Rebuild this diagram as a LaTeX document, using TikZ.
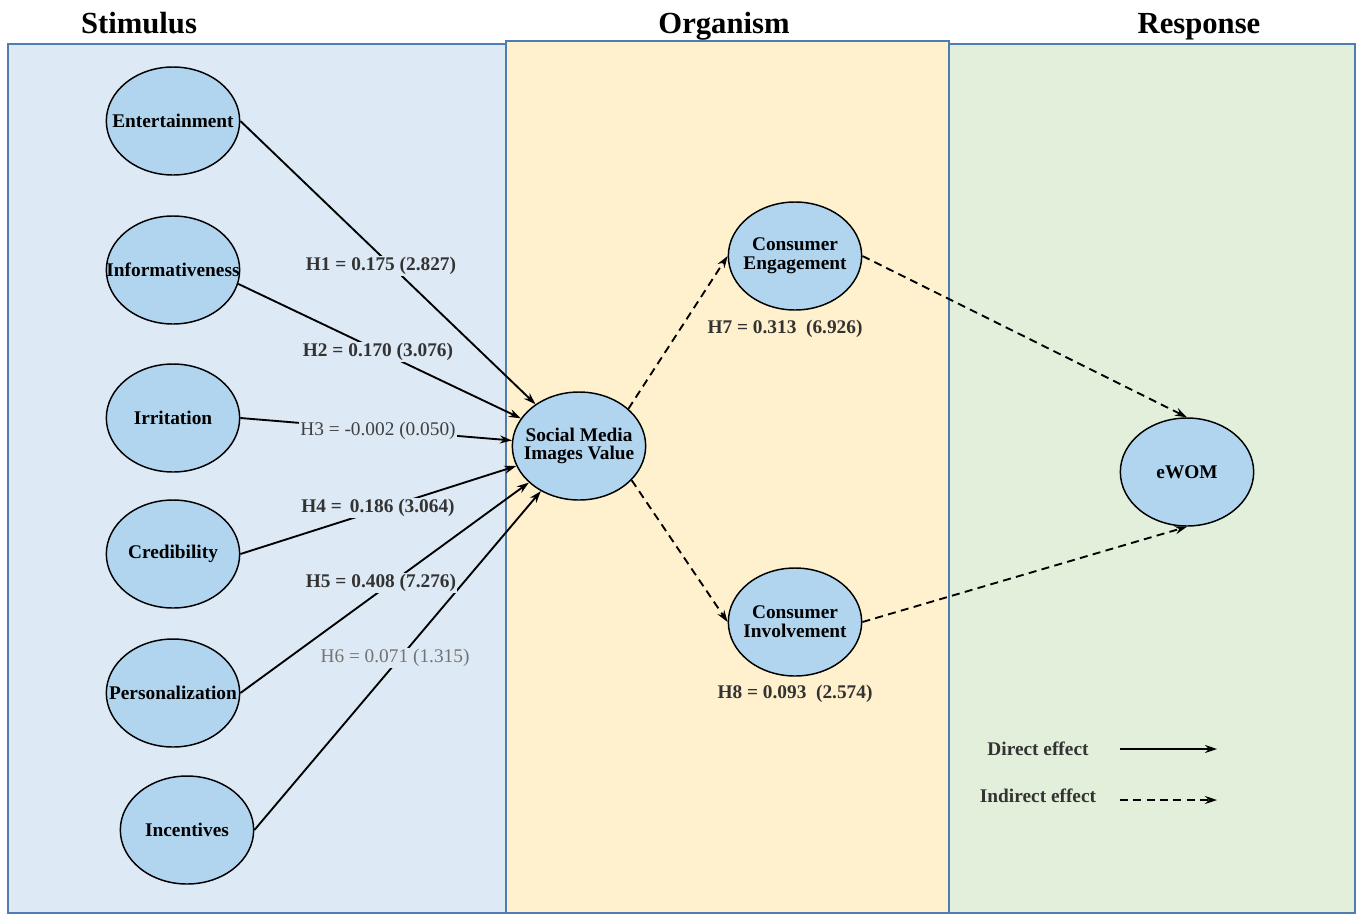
\documentclass[tikz,border=0pt]{standalone}
\usepackage{fontspec}
\setmainfont{Liberation Serif}
\usetikzlibrary{shapes.geometric,arrows.meta}

\definecolor{stimfill}{HTML}{DDE9F5}
\definecolor{orgfill}{HTML}{FFF1CD}
\definecolor{respfill}{HTML}{E2EFDA}
\definecolor{panelline}{HTML}{4F7DB0}
\definecolor{latentfill}{HTML}{B1D5EF}

\begin{document}
\begin{tikzpicture}[
    x=0.75pt, y=-0.75pt,
    panel/.style={draw=panelline, line width=1.5pt},
    header/.style={anchor=base, font=\fontsize{23}{26}\selectfont\bfseries},
    latent/.style={draw, ellipse, fill=latentfill, line width=1.1pt, minimum width=100pt, minimum height=81pt, inner xsep=-30pt, inner ysep=0pt, align=center, font=\fontsize{14.5}{14}\selectfont\bfseries},
    lbl/.style={inner sep=1pt, font=\fontsize{14.5}{16}\selectfont\bfseries, text=black!80},
    lightlbl/.style={lbl, font=\fontsize{14.5}{16}\selectfont, text=black!75},
    direct/.style={-{Stealth[length=9pt,width=6pt]}, line width=1.4pt},
    indirect/.style={direct, dash pattern=on 6pt off 4pt}
]
\useasboundingbox (0,0) rectangle (1362,914);

\filldraw[panel, fill=stimfill] (8,44) rectangle (506,913);
\filldraw[panel, fill=respfill] (949,44) rectangle (1355,913);
\filldraw[panel, fill=orgfill] (506,41) rectangle (949,913);

\node[header] (stim) at (139,33) {Stimulus};
\node[header] (org) at (724,33) {Organism};
\node[header] (resp) at (1199,33) {Response};

\node[latent] (ent) at (173,121) {Entertainment};
\node[latent] (inf) at (173,270) {Informativeness};
\node[latent] (irr) at (173,418) {Irritation};
\node[latent] (cred) at (173,554) {Credibility};
\node[latent] (pers) at (173,693) {Personalization};
\node[latent] (inc) at (187,830) {Incentives};
\node[latent] (smiv) at (579,446) {Social Media\\Images Value};
\node[latent] (eng) at (795,256) {Consumer\\Engagement};
\node[latent] (inv) at (795,622) {Consumer\\Involvement};
\node[latent] (ewom) at (1187,472) {eWOM};

\draw[direct] (ent.east) -- (smiv);
\draw[direct] (inf.-12) -- (smiv);
\draw[direct] (irr.east) -- (smiv);
\draw[direct] (cred.east) -- (smiv);
\draw[direct] (pers.east) -- (smiv);
\draw[direct] (inc.east) -- (smiv);

\draw[indirect] (smiv.37) -- (eng.west);
\draw[indirect] (smiv.-33) -- (inv.west);
\draw[indirect] (eng.east) -- (ewom.north);
\draw[indirect] (inv.east) -- (ewom.south);

\node[lbl, fill=stimfill] (h1) at (381,266) {H1 = 0.175 (2.827)};
\node[lbl, fill=stimfill] (h2) at (378,352) {H2 = 0.170 (3.076)};
\node[lightlbl, fill=stimfill] (h3) at (378,431) {H3 = -0.002 (0.050)};
\node[lbl, fill=stimfill] (h4) at (378,508) {H4 =\, 0.186 (3.064)};
\node[lbl, fill=stimfill] (h5) at (381,583) {H5 = 0.408 (7.276)};
\node[lightlbl, fill=stimfill, text=black!55] (h6) at (395,658) {H6 = 0.071 (1.315)};
\node[lbl] (h7) at (785,329) {H7 = 0.313~~(6.926)};
\node[lbl] (h8) at (795,694) {H8 = 0.093~~(2.574)};

\node[lbl] (dir) at (1038,749) {Direct effect};
\node[lbl] (ind) at (1038,796) {Indirect effect};
\coordinate (dirA) at (1120,749);
\coordinate (dirB) at (1217,749);
\coordinate (indA) at (1120,800);
\coordinate (indB) at (1217,800);
\draw[direct] (dirA) -- (dirB);
\draw[indirect] (indA) -- (indB);
\end{tikzpicture}
\end{document}
